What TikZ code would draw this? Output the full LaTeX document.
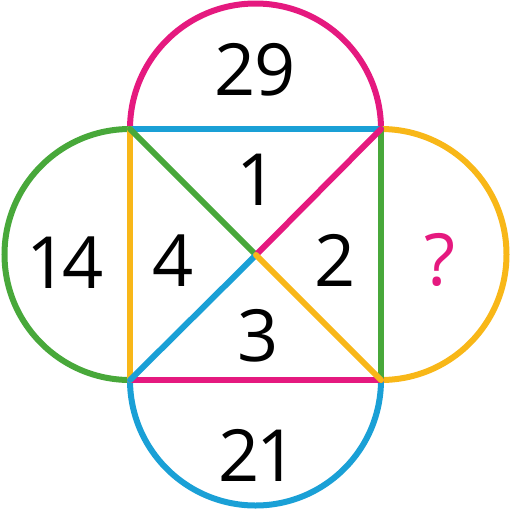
\documentclass[tikz,border=0pt]{standalone}
\usepackage{fontspec}
\setmainfont{Open Sans}
\definecolor{cmag}{HTML}{E5197F}
\definecolor{cblu}{HTML}{1AA0D6}
\definecolor{cgrn}{HTML}{48A83A}
\definecolor{cyel}{HTML}{F8B718}
\begin{document}
\begin{tikzpicture}[x=1pt,y=-1pt,
  edge/.style={line width=6pt,line cap=round},
  num/.style={font=\fontsize{72}{72}\selectfont,inner sep=0pt}]
\useasboundingbox (0,0) rectangle (512,512);
\coordinate (tl) at (130,129);
\coordinate (tr) at (381,129);
\coordinate (bl) at (130,380);
\coordinate (br) at (381,380);
\coordinate (c) at (256,255);
% semicircles
\draw[edge,cmag] (tl) arc[start angle=180,end angle=360,radius=125.5];
\draw[edge,cgrn] (tl) arc[start angle=270,end angle=90,radius=125.5];
\draw[edge,cyel] (tr) arc[start angle=-90,end angle=90,radius=125.5];
\draw[edge,cblu] (bl) arc[start angle=180,end angle=0,radius=125.5];
% square edges
\draw[edge,cblu] (tl) -- (tr);
\draw[edge,cgrn] (tr) -- (br);
\draw[edge,cmag] (bl) -- (br);
\draw[edge,cyel] (tl) -- (bl);
% diagonals
\draw[edge,cgrn] (tl) -- (c);
\draw[edge,cmag] (tr) -- (c);
\draw[edge,cblu] (bl) -- (c);
\draw[edge,cyel] (br) -- (c);
% numbers
\node[num] (n29) at (255,70) {2\kern-2pt9};
\node[num] (n1) at (257,180) {1};
\node[num] (n14) at (65,263) {1\kern-6pt4};
\node[num] (n4) at (173,261) {4};
\node[num] (n2) at (335,260) {2};
\node[num,text=cmag] (nq) at (440,260) {?};
\node[num] (n3) at (258,336) {3};
\node[num] (n21) at (258,455) {2\kern-4pt1};
\end{tikzpicture}
\end{document}
